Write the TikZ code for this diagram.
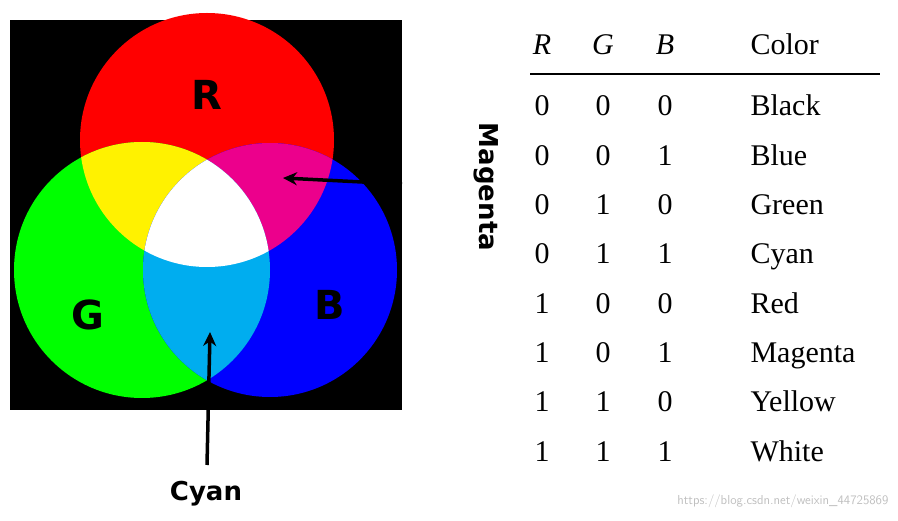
\documentclass[tikz,border=0pt]{standalone}
\usepackage{fontspec}
\usetikzlibrary{arrows.meta}
\setmainfont{Liberation Serif}
\newfontfamily\lblfont{DejaVu Sans}
\begin{document}
\begin{tikzpicture}[x=1pt,y=-1pt,
  hd/.style={font=\fontsize{30}{34}\selectfont\itshape,anchor=base},
  cell/.style={font=\fontsize{30}{34}\selectfont,anchor=base},
  ccell/.style={font=\fontsize{30}{34}\selectfont,anchor=base west},
  big/.style={font=\lblfont\bfseries\fontsize{40}{44}\selectfont},
  lbl/.style={font=\lblfont\bfseries\fontsize{26}{30}\selectfont},
  arr/.style={line width=3.5pt,-{Stealth[length=14pt,width=13pt]}}]
\useasboundingbox (0,0) rectangle (898,521);
\fill[black] (10,20) rectangle (402,410);
\def\Rc{(207,140) circle (127)}
\def\Gc{(142,270) circle (128)}
\def\Bc{(270,270) circle (127)}
\fill[red] \Rc; \fill[green] \Gc; \fill[blue] \Bc;
\begin{scope}\clip \Rc; \fill[yellow] \Gc; \end{scope}
\begin{scope}\clip \Rc; \fill[magenta] \Bc; \end{scope}
\begin{scope}\clip \Gc; \fill[cyan] \Bc; \end{scope}
\begin{scope}\clip \Rc; \clip \Gc; \fill[white] \Bc; \end{scope}
\node[big] (lr) at (207,95) {R};
\node[big] (lg) at (88,315) {G};
\node[big] (lb) at (330,305) {B};
\node[lbl,rotate=-90] (mag) at (486,187) {Magenta};
\node[lbl] (cyan) at (206,494) {Cyan};
\coordinate (magtip) at (283,178);
\coordinate (cyantip) at (210,332);
\draw[arr] (402,184) -- (magtip);
\draw[arr] (207,465) -- (cyantip);
% table
\node[hd] (hR) at (542,55) {R};
\node[hd] (hG) at (603,55) {G};
\node[hd] (hB) at (665,55) {B};
\node[ccell] (hC) at (747,55) {Color};
\draw[line width=1.3pt] (530,74) -- (880,74);
\foreach \r/\g/\b/\c [count=\i from 0] in {0/0/0/Black,0/0/1/Blue,0/1/0/Green,0/1/1/Cyan,1/0/0/Red,1/0/1/Magenta,1/1/0/Yellow,1/1/1/White}{
  \pgfmathsetmacro\yy{116+49.3*\i}
  \node[cell] (r\i) at (542,\yy) {\r};
  \node[cell] (g\i) at (603,\yy) {\g};
  \node[cell] (b\i) at (665,\yy) {\b};
  \node[ccell] (c\i) at (747,\yy) {\c};
}
\node[font=\sffamily\fontsize{13}{15}\selectfont,text=gray!50,anchor=east] (wm) at (892,501) {https://blog.csdn.net/weixin\_44725869};
\end{tikzpicture}
\end{document}
